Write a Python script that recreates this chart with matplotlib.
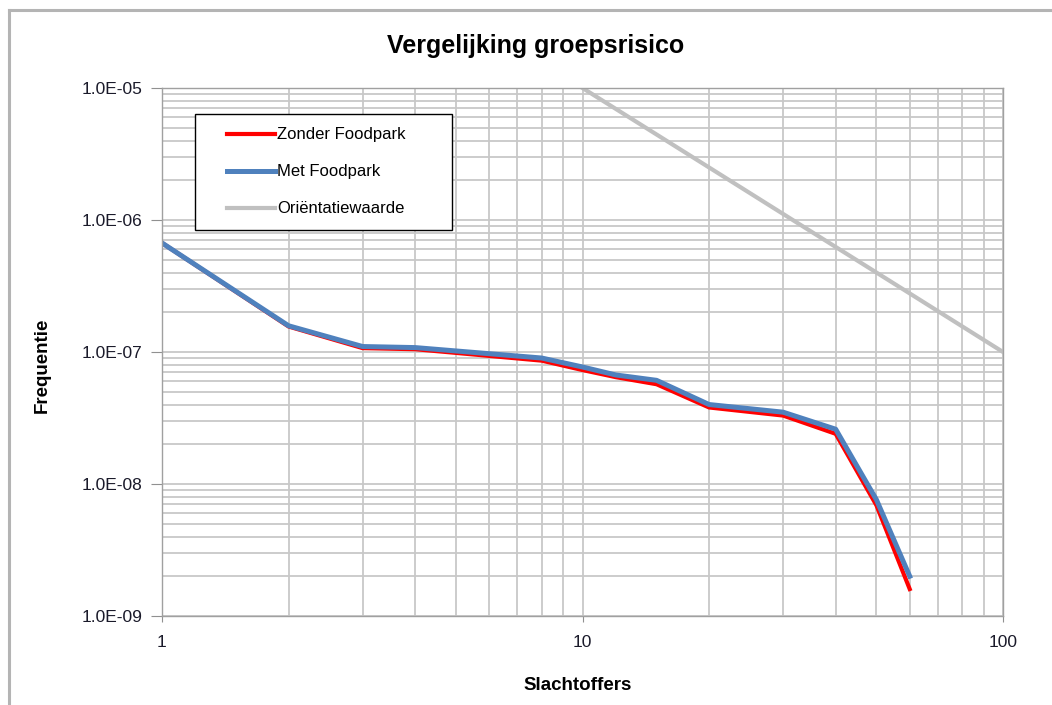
import numpy as np
import matplotlib
matplotlib.use("Agg")
import matplotlib.pyplot as plt
from matplotlib.ticker import FixedLocator, FuncFormatter, NullFormatter
from matplotlib.lines import Line2D
from matplotlib.legend_handler import HandlerLine2D

plt.rcParams['font.family'] = ['Liberation Sans', 'DejaVu Sans']

# Data
slachtoffers = [1, 2, 3, 4, 8, 10, 12, 15, 20, 30, 40, 50, 60]
zonder = [6.7e-7, 1.56e-7, 1.07e-7, 1.05e-7, 8.6e-8, 7.3e-8, 6.45e-8, 5.7e-8,
          3.8e-8, 3.3e-8, 2.4e-8, 6.9e-9, 1.6e-9]
met = [6.7e-7, 1.58e-7, 1.10e-7, 1.08e-7, 9.0e-8, 7.7e-8, 6.7e-8, 6.1e-8,
       4.0e-8, 3.5e-8, 2.6e-8, 7.6e-9, 2.0e-9]
orient_x = [10, 100]
orient_y = [1e-5, 1e-7]

title = "Vergelijking groepsrisico"
xlabel = "Slachtoffers"
ylabel = "Frequentie"
labels = ["Zonder Foodpark", "Met Foodpark", "Oriëntatiewaarde"]

W, H = 1052, 705
fig = plt.figure(figsize=(W / 100, H / 100), dpi=100)

# outer chart border (only top and left visible in the reference crop)
border_c = '#b4b4b4'
fig.add_artist(Line2D([9 / W, 1.0], [1 - 10 / H, 1 - 10 / H], transform=fig.transFigure,
                      color=border_c, linewidth=2.2))
fig.add_artist(Line2D([9 / W, 9 / W], [0.0, 1 - 10 / H], transform=fig.transFigure,
                      color=border_c, linewidth=2.2))

left, right, top, bottom = 162, 1003, 88, 616
ax = fig.add_axes([left / W, 1 - bottom / H, (right - left) / W, (bottom - top) / H])
ax.set_xscale('log')
ax.set_yscale('log')
ax.set_xlim(1, 100)
ax.set_ylim(1e-9, 1e-5)

grid_c = '#c8c8c8'
ax.grid(True, which='both', color=grid_c, linewidth=1.3)
ax.set_axisbelow(True)
for s in ax.spines.values():
    s.set_color('#a0a0a0')
    s.set_linewidth(1.0)

ax.xaxis.set_major_locator(FixedLocator([1, 10, 100]))
ax.xaxis.set_major_formatter(FuncFormatter(lambda v, p: f"{v:g}"))
ax.xaxis.set_minor_formatter(NullFormatter())
ax.yaxis.set_major_locator(FixedLocator([1e-9, 1e-8, 1e-7, 1e-6, 1e-5]))


def efmt(v, p):
    m, e = f"{v:.1E}".split("E")
    return f"{m}E{int(e):+03d}"


ax.yaxis.set_major_formatter(FuncFormatter(efmt))
ax.yaxis.set_minor_formatter(NullFormatter())
ax.tick_params(axis='y', which='major', length=8, color='#909090', labelsize=12.5, pad=6,
               labelcolor='#1a1a2a')
ax.tick_params(axis='x', which='major', length=4, color='#909090', labelsize=12.5, pad=10,
               labelcolor='#1a1a2a')
ax.tick_params(which='minor', length=0)

l1, = ax.plot(slachtoffers, zonder, color='#ff0000', linewidth=3.0, label=labels[0],
              solid_joinstyle='round')
l2, = ax.plot(slachtoffers, met, color='#4f81bd', linewidth=3.6, label=labels[1],
              solid_joinstyle='round')
l3, = ax.plot(orient_x, orient_y, color='#c0c0c0', linewidth=3.0, label=labels[2])


class OffsetLineHandler(HandlerLine2D):
    def get_xdata(self, legend, xdescent, ydescent, width, height, fontsize):
        x0 = -xdescent + width * 0.28
        x1 = -xdescent + width
        return np.array([x0, x1]), np.array([x0, x1])


aw, ah = right - left, bottom - top
leg_x0, leg_y0, leg_x1 = 195, 114, 452
leg = ax.legend(handles=[l1, l2, l3], loc='upper left',
                bbox_to_anchor=((leg_x0 - left) / aw, 1 - (leg_y0 - top) / ah,
                                (leg_x1 - leg_x0) / aw, 0.0),
                mode='expand',
                handler_map={Line2D: OffsetLineHandler()},
                fancybox=False, framealpha=1, edgecolor='#000000', fontsize=12,
                handlelength=4.0, labelspacing=1.32, borderpad=0.8, handletextpad=0.12,
                borderaxespad=0)
leg.get_frame().set_linewidth(1.0)

fig.text(536 / W, 1 - 46 / H, title, ha='center', va='center',
         fontsize=18, fontweight='bold')
fig.text(578 / W, 1 - 685 / H, xlabel, ha='center', va='center',
         fontsize=13.5, fontweight='bold')
fig.text(42 / W, 1 - 365 / H, ylabel, ha='center', va='center', rotation=90,
         fontsize=13.5, fontweight='bold')

fig.savefig("out.png", dpi=100)
